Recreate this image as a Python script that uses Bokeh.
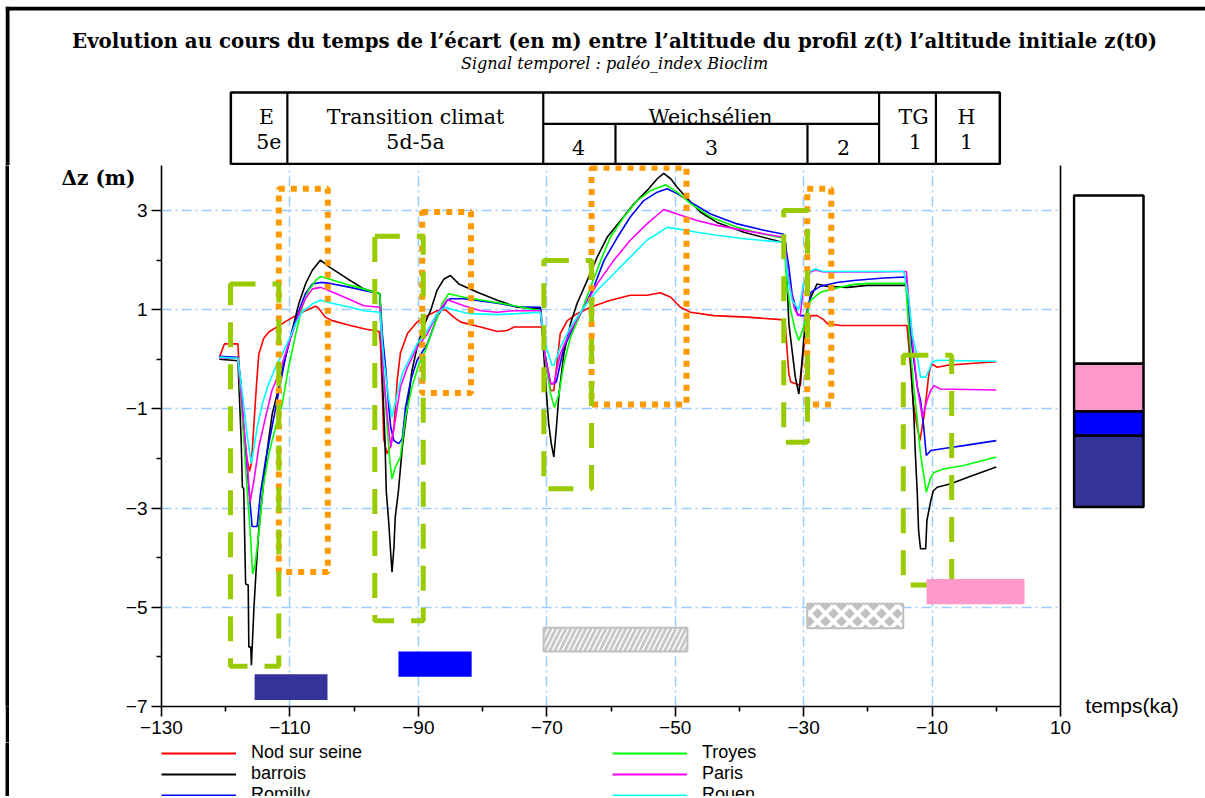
from bokeh.plotting import figure
from bokeh.models import Range1d, FixedTicker, LinearAxis, Legend, LegendItem
from bokeh.layouts import column, row
from bokeh.embed import file_html
from bokeh.resources import INLINE
from bokeh.core.properties import value

# ---------------- data (time in ka, dz in m) ----------------
series_names = ["Nod sur seine", "barrois", "Romilly", "Troyes", "Paris", "Rouen"]
series_colors = ["#ff0000", "#000000", "#0000ff", "#00ff00", "#ff00ff", "#00ffff"]

nod = [(-121.0, 0.03), (-120.2, 0.31), (-118.1, 0.31), (-117.9, -0.2), (-117.3, -1.3), (-116.7, -2.0),
       (-116.3, -2.26), (-116.0, -2.1), (-115.5, -1.1), (-115.2, -0.5), (-114.85, 0.1), (-114.1, 0.42),
       (-113.3, 0.55), (-112.2, 0.64), (-110.7, 0.76), (-109.1, 0.88), (-107.6, 0.98), (-106.0, 1.07),
       (-105.6, 1.04), (-104.5, 0.85), (-103.4, 0.78), (-100.6, 0.68), (-98.3, 0.61), (-96.1, 0.56),
       (-95.9, 0.3), (-95.6, -0.7), (-95.4, -1.6), (-94.9, -1.9), (-94.3, -1.75), (-93.8, -1.37),
       (-93.3, -0.43), (-92.8, 0.12), (-91.7, 0.52), (-90.2, 0.75), (-88.6, 0.88), (-87.1, 0.98),
       (-85.8, 1.0), (-84.5, 0.85), (-83.4, 0.75), (-80.3, 0.65), (-77.7, 0.56), (-76.2, 0.58),
       (-75.1, 0.65), (-70.9, 0.65), (-70.7, 0.6), (-70.3, 0.0), (-69.4, -0.63), (-68.9, -0.63),
       (-67.9, 0.52), (-66.8, 0.78), (-65.3, 0.92), (-63.2, 1.05), (-60.1, 1.19), (-57.0, 1.29),
       (-54.4, 1.29), (-52.3, 1.34), (-50.7, 1.25), (-49.2, 1.05), (-47.6, 0.95), (-44.0, 0.88),
       (-38.8, 0.85), (-33.6, 0.80), (-32.9, 0.75), (-32.3, -0.3), (-32.0, -0.46), (-30.5, -0.53),
       (-30.2, -0.02), (-29.7, 0.52), (-28.9, 0.88), (-27.9, 0.88), (-26.9, 0.80), (-26.3, 0.72),
       (-24.3, 0.68), (-13.9, 0.68), (-13.4, -0.09), (-12.9, -0.9), (-12.4, -1.3), (-11.9, -1.64),
       (-11.2, -1.1), (-10.5, -0.3), (-10.1, -0.09), (-9.2, -0.16), (-7.6, -0.12), (-3.5, -0.08),
       (0.0, -0.05)]

barrois = [(-121.0, 0.0), (-118.1, -0.03), (-117.6, -1.6), (-117.4, -2.58), (-117.2, -2.6),
           (-116.9, -4.53), (-116.5, -4.55), (-116.4, -5.8), (-116.1, -5.8), (-116.0, -6.17),
           (-115.6, -5.0), (-115.25, -4.22), (-114.85, -3.45), (-114.07, -2.44), (-113.54, -1.84),
           (-112.76, -1.1), (-111.98, -0.7), (-110.95, -0.09), (-109.91, 0.45), (-108.62, 1.12),
           (-107.57, 1.52), (-106.53, 1.79), (-105.24, 2.0), (-103.95, 1.87), (-101.0, 1.62),
           (-98.5, 1.42), (-96.0, 1.32), (-95.9, 1.0), (-95.5, -0.7), (-95.2, -1.64), (-95.0, -2.65),
           (-94.6, -3.31), (-94.3, -3.92), (-94.1, -4.29), (-93.8, -3.79), (-93.6, -3.18),
           (-93.1, -2.65), (-92.5, -1.77), (-91.7, -0.97), (-91.0, -0.23), (-90.2, 0.24),
           (-89.15, 0.68), (-88.1, 0.98), (-87.1, 1.39), (-86.0, 1.62), (-85.0, 1.69), (-83.7, 1.52),
           (-80.8, 1.35), (-77.7, 1.19), (-74.6, 1.05), (-71.0, 1.02), (-70.9, 0.98), (-70.2, -0.43),
           (-69.7, -1.3), (-69.3, -1.7), (-68.9, -1.97), (-68.5, -1.37), (-68.1, -0.7),
           (-67.35, 0.11), (-66.3, 0.72), (-65.3, 1.12), (-63.7, 1.59), (-62.15, 2.06),
           (-60.6, 2.46), (-58.5, 2.8), (-56.45, 3.13), (-54.4, 3.4), (-52.8, 3.64), (-51.8, 3.75),
           (-50.7, 3.64), (-49.7, 3.47), (-48.1, 3.24), (-46.1, 2.97), (-43.5, 2.76), (-39.3, 2.56),
           (-33.6, 2.37), (-32.8, 2.36), (-32.6, 1.59), (-32.3, 0.72), (-31.8, 0.18), (-31.3, -0.36),
           (-30.75, -0.7), (-30.2, 0.04), (-29.7, 0.85), (-28.9, 1.25), (-27.9, 1.52), (-26.3, 1.47),
           (-23.2, 1.45), (-20.1, 1.49), (-13.9, 1.49), (-13.5, 0.38), (-13.1, -0.56), (-12.85, -1.1),
           (-12.6, -1.91), (-12.3, -2.71), (-12.1, -3.45), (-11.8, -3.82), (-11.0, -3.82),
           (-10.8, -3.25), (-10.2, -2.85), (-9.8, -2.65), (-9.2, -2.58), (-7.1, -2.51), (-4.0, -2.36),
           (0.0, -2.17)]

romilly = [(-121.0, 0.06), (-118.1, 0.04), (-117.6, -0.5), (-117.2, -1.4), (-116.65, -2.24),
           (-116.0, -3.2), (-115.9, -3.37), (-115.1, -3.37), (-114.6, -2.71), (-113.8, -2.04),
           (-112.8, -1.37), (-111.7, -0.63), (-110.7, 0.04), (-109.65, 0.58), (-108.6, 0.98),
           (-107.6, 1.32), (-106.5, 1.52), (-105.2, 1.55), (-103.7, 1.53), (-100.6, 1.45),
           (-98.5, 1.39), (-96.0, 1.32), (-95.6, 0.5), (-95.1, -0.16), (-94.6, -0.97), (-94.3, -1.37),
           (-93.8, -1.64), (-93.05, -1.7), (-92.5, -1.6), (-92.0, -0.97), (-91.2, -0.43),
           (-90.2, -0.02), (-88.6, 0.31), (-87.1, 0.85), (-85.5, 1.19), (-85.0, 1.22), (-82.9, 1.22),
           (-77.7, 1.13), (-74.6, 1.06), (-71.0, 1.05), (-70.5, 0.24), (-69.7, -0.29), (-69.4, -0.49),
           (-68.9, -0.49), (-68.5, -0.45), (-67.35, 0.24), (-65.8, 0.65), (-64.2, 1.05),
           (-62.7, 1.45), (-61.1, 1.99), (-59.0, 2.46), (-57.0, 2.87), (-54.9, 3.2), (-52.8, 3.37),
           (-51.25, 3.44), (-49.7, 3.34), (-47.6, 3.17), (-44.5, 2.93), (-40.35, 2.73), (-36.2, 2.6),
           (-33.1, 2.52), (-32.3, 1.86), (-31.8, 1.32), (-31.0, 0.92), (-30.5, 0.88), (-29.45, 0.88),
           (-28.9, 1.35), (-27.4, 1.47), (-24.8, 1.55), (-22.2, 1.59), (-17.5, 1.64), (-14.1, 1.66),
           (-13.6, 0.98), (-13.1, 0.24), (-12.3, -0.56), (-11.8, -0.83), (-11.3, -1.37),
           (-10.9, -1.94), (-10.2, -1.84), (-8.2, -1.8), (-5.1, -1.74), (0.0, -1.64)]

troyes = [(-121.0, 0.04), (-118.1, 0.02), (-117.5, -1.0), (-116.65, -2.65), (-116.1, -3.65),
          (-115.8, -4.33), (-115.4, -4.12), (-114.85, -3.52), (-114.1, -2.51), (-113.3, -1.91),
          (-112.25, -1.37), (-111.2, -0.9), (-110.2, -0.16), (-109.1, 0.51), (-108.1, 1.05),
          (-107.1, 1.39), (-106.0, 1.59), (-105.2, 1.67), (-103.4, 1.6), (-100.6, 1.49),
          (-98.5, 1.42), (-96.9, 1.35), (-96.0, 1.32), (-95.4, -0.36), (-94.85, -1.37),
          (-94.45, -2.04), (-94.1, -2.41), (-93.6, -2.18), (-92.8, -1.97), (-92.0, -1.17),
          (-91.0, -0.56), (-89.9, -0.09), (-88.9, 0.18), (-87.6, 0.65), (-86.3, 1.12), (-85.3, 1.32),
          (-82.9, 1.25), (-76.7, 1.12), (-71.0, 0.98), (-70.2, -0.02), (-69.4, -0.7), (-68.8, -0.97),
          (-68.1, -0.7), (-67.35, -0.09), (-66.3, 0.45), (-64.75, 0.92), (-63.2, 1.45),
          (-61.6, 1.99), (-60.1, 2.46), (-58.0, 2.87), (-55.9, 3.2), (-53.85, 3.4), (-51.5, 3.52),
          (-49.7, 3.37), (-47.6, 3.14), (-44.5, 2.87), (-40.35, 2.66), (-36.2, 2.52), (-33.1, 2.44),
          (-32.6, 1.5), (-32.0, 0.98), (-31.3, 0.58), (-30.75, 0.38), (-30.0, 0.65), (-28.9, 1.19),
          (-27.4, 1.35), (-24.8, 1.44), (-22.2, 1.51), (-19.6, 1.53), (-14.1, 1.53), (-13.4, 0.24),
          (-12.85, -0.56), (-12.3, -1.23), (-11.8, -1.91), (-10.9, -2.68), (-10.2, -2.38),
          (-9.7, -2.28), (-8.2, -2.21), (-5.1, -2.14), (-3.0, -2.07), (0.0, -1.97)]

paris = [(-121.0, 0.03), (-118.1, 0.02), (-117.4, -1.0), (-116.7, -2.0), (-116.2, -2.88),
         (-115.6, -2.44), (-114.85, -1.77), (-113.8, -1.17), (-112.8, -0.63), (-111.7, -0.29),
         (-110.7, 0.11), (-109.65, 0.51), (-108.6, 0.92), (-107.6, 1.22), (-106.5, 1.42),
         (-105.2, 1.45), (-103.5, 1.36), (-100.6, 1.2), (-98.5, 1.08), (-96.0, 1.05), (-95.5, -0.2),
         (-94.8, -1.2), (-94.3, -1.77), (-93.6, -1.23), (-92.8, -0.56), (-91.7, -0.16),
         (-90.2, 0.24), (-88.6, 0.51), (-87.1, 0.92), (-85.5, 1.2), (-82.9, 1.08), (-80.3, 0.98),
         (-77.7, 0.95), (-75.1, 0.98), (-71.0, 0.98), (-70.2, 0.0), (-69.4, -0.49), (-68.9, -0.49),
         (-67.9, 0.11), (-66.3, 0.58), (-64.2, 1.05), (-62.15, 1.52), (-59.6, 1.99), (-57.0, 2.4),
         (-54.4, 2.73), (-51.8, 3.02), (-49.7, 2.93), (-46.6, 2.8), (-43.5, 2.7), (-39.3, 2.6),
         (-33.1, 2.46), (-32.3, 1.59), (-31.5, 1.05), (-30.9, 0.88), (-30.5, 0.9), (-30.0, 1.52),
         (-28.9, 1.76), (-28.15, 1.8), (-26.9, 1.76), (-18.5, 1.76), (-15.4, 1.77), (-14.0, 1.77),
         (-13.4, 0.85), (-12.85, 0.11), (-12.3, -0.56), (-11.5, -1.17), (-10.8, -0.83),
         (-10.2, -0.63), (-9.7, -0.53), (-8.7, -0.6), (0.0, -0.62)]

rouen = [(-121.0, 0.04), (-118.1, 0.02), (-117.3, -0.8), (-116.6, -1.6), (-116.0, -2.1),
         (-115.1, -1.37), (-114.3, -0.9), (-113.3, -0.49), (-112.25, -0.16), (-111.2, 0.11),
         (-110.2, 0.38), (-109.1, 0.72), (-108.1, 0.95), (-106.5, 1.12), (-105.2, 1.19),
         (-103.5, 1.13), (-100.6, 1.05), (-98.5, 0.98), (-96.0, 0.95), (-95.4, 0.0), (-94.6, -0.8),
         (-94.1, -1.17), (-93.3, -0.7), (-92.5, -0.29), (-91.5, -0.02), (-90.2, 0.31), (-88.6, 0.58),
         (-87.1, 0.92), (-85.8, 1.05), (-84.0, 0.98), (-81.9, 0.92), (-77.7, 0.9), (-74.6, 0.92),
         (-71.0, 0.95), (-70.2, 0.3), (-69.2, -0.12), (-68.9, -0.12), (-67.9, 0.24), (-66.3, 0.65),
         (-64.2, 1.05), (-62.15, 1.39), (-59.6, 1.72), (-57.0, 2.06), (-54.4, 2.4), (-51.25, 2.66),
         (-49.7, 2.63), (-46.6, 2.56), (-43.5, 2.5), (-39.3, 2.43), (-33.1, 2.36), (-32.4, 1.6),
         (-31.8, 1.19), (-30.75, 1.0), (-30.0, 1.52), (-28.9, 1.78), (-28.15, 1.82), (-26.9, 1.77),
         (-14.4, 1.77), (-13.6, 1.19), (-13.1, 0.51), (-12.3, 0.04), (-11.8, -0.36), (-11.0, -0.36),
         (-10.5, -0.23), (-10.0, -0.06), (-9.2, -0.02), (0.0, -0.04)]

all_series = [nod, barrois, romilly, troyes, paris, rouen]

# highlighted windows (left, right, bottom, top) in ka / m
green_boxes = [(-119.25, -111.73, -6.19, 1.52), (-96.78, -89.24, -5.27, 2.48),
               (-70.46, -63.03, -2.61, 1.99), (-33.1, -29.4, -1.67, 3.0),
               (-14.48, -6.95, -4.55, 0.08)]
orange_boxes = [(-111.73, -104.1, -4.29, 3.44), (-89.4, -81.8, -0.68, 2.97),
                (-63.03, -48.24, -0.91, 3.86), (-29.44, -25.7, -0.91, 3.44)]

# period bars at the bottom (left, right, bottom, top)
bar_navy = (-115.5, -104.15, -6.87, -6.35)
bar_blue = (-93.1, -81.7, -6.4, -5.89)
bar_hatch = (-70.5, -48.1, -5.89, -5.41)
bar_diamond = (-29.44, -14.49, -5.42, -4.93)
bar_pink = (-10.86, 4.4, -4.94, -4.43)

# colour scale on the right
scale_edges = [3.30, -0.09, -1.05, -1.54, -2.98]
scale_colors = ["#ffffff", "#ff99cc", "#0000ff", "#333399"]

# climate periods header
period_edges = [-119.2, -110.4, -70.55, -59.3, -29.4, -18.25, -9.4, 0.55]

x_ticks = [-130, -110, -90, -70, -50, -30, -10, 10]
x_tick_labels = ["\u2212130", "\u2212110", "\u221290", "\u221270", "\u221250", "\u221230", "\u221210", "10"]
x_minor = [-120, -100, -80, -60, -40, -20, 0]
y_ticks = [3, 1, -1, -3, -5, -7]
y_tick_labels = ["3", "1", "\u22121", "\u22123", "\u22125", "\u22127"]
y_minor = [2, 0, -2, -4, -6]

title_text = "Evolution au cours du temps de l\u2019\u00e9cart (en m) entre l\u2019altitude du profil z(t) l\u2019altitude initiale z(t0)"
subtitle_text = "Signal temporel : pal\u00e9o_index Bioclim"

# ---------------- layout ----------------
BORDER = 4
W_MAIN = 1063
W_RIGHT = 133
W_HEAD = BORDER + W_MAIN + W_RIGHT
H_HEAD = 159
H_MAIN = 577
H_LEG = 54
ML, MR, MT, MB = 152, 12, 0, 36
X0, X1 = -130, 10
Y0 = -7.0
PX_PER_Y = 49.6
Y1 = Y0 + (H_MAIN - MT - MB) / PX_PER_Y
FRAME_W = W_MAIN - ML - MR
PX_PER_X = FRAME_W / (X1 - X0)

SANS = value("Liberation Sans")
SERIF = value("DejaVu Serif")

common = dict(output_backend="svg", toolbar_location=None)


def no_align(fig):
    try:
        fig.frame_align = False
    except Exception:
        pass
    return fig


def strip(height, mb=0):
    s = figure(width=BORDER, height=height, x_axis_type=None, y_axis_type=None, min_border=0,
               min_border_bottom=mb, background_fill_color="black", border_fill_color="black",
               outline_line_color=None, **common)
    return no_align(s)


# ---------- main chart ----------
p = figure(width=W_MAIN, height=H_MAIN, x_range=Range1d(X0, X1), y_range=Range1d(Y0, Y1),
           min_border_left=ML, min_border_right=MR, min_border_top=MT, min_border_bottom=MB,
           outline_line_color=None, **common)
no_align(p)

xa = p.xaxis[0]
xa.ticker = FixedTicker(ticks=x_ticks, minor_ticks=x_minor)
xa.major_label_overrides = dict(zip(x_ticks, x_tick_labels))
ya = p.yaxis[0]
ya.ticker = FixedTicker(ticks=y_ticks, minor_ticks=y_minor)
ya.major_label_overrides = dict(zip(y_ticks, y_tick_labels))
for ax in (xa, ya):
    ax.axis_line_color = "black"
    ax.axis_line_width = 1.6
    ax.major_tick_line_color = "black"
    ax.minor_tick_line_color = "black"
    ax.major_tick_line_width = 1.6
    ax.minor_tick_line_width = 1.6
    ax.major_tick_out = 10
    ax.major_tick_in = 0
    ax.minor_tick_out = 5
    ax.minor_tick_in = 0
    ax.major_label_text_font = "Liberation Sans"
    ax.major_label_text_font_size = "19px"
    ax.major_label_text_color = "black"
xa.major_label_standoff = 4
ya.major_label_standoff = 4

for g in (p.xgrid[0], p.ygrid[0]):
    g.grid_line_color = "#99ccff"
    g.grid_line_width = 1.5
    g.grid_line_dash = "10 4 2 4"

# delta-z label as an extra tickless axis
dz_axis = LinearAxis(ticker=FixedTicker(ticks=[3.67]), major_label_overrides={3.67: "\u0394z (m)"},
                     axis_line_color=None, major_tick_line_color=None, minor_tick_line_color=None,
                     major_tick_out=0, major_tick_in=0, minor_tick_out=0, minor_tick_in=0,
                     major_label_text_font="DejaVu Serif", major_label_text_font_style="bold",
                     major_label_text_font_size="20px", major_label_text_color="black",
                     major_label_standoff=-13)
p.add_layout(dz_axis, "left")

right_axis = LinearAxis(ticker=FixedTicker(ticks=[]), axis_line_color="black", axis_line_width=1.6,
                        major_tick_out=0, major_tick_in=0, minor_tick_out=0, minor_tick_in=0,
                        major_label_text_font_size="0px")
p.add_layout(right_axis, "right")

for s, c in zip(all_series, series_colors):
    ts = [a for a, b in s]
    zs = [b for a, b in s]
    p.line(ts, zs, line_color=c, line_width=1.6)


def boxes(lst, **kw):
    p.quad(left=[b[0] for b in lst], right=[b[1] for b in lst],
           bottom=[b[2] for b in lst], top=[b[3] for b in lst], fill_alpha=0, **kw)


boxes(orange_boxes, line_color="#ff9900", line_width=6, line_dash="6 6")
boxes(green_boxes, line_color="#99cc00", line_width=5, line_dash="25 17")


def bar(b, **kw):
    p.quad(left=[b[0]], right=[b[1]], bottom=[b[2]], top=[b[3]], **kw)


bar(bar_navy, fill_color="#333399", line_color=None)
bar(bar_blue, fill_color="#0000ff", line_color=None)
bar(bar_hatch, fill_color="white", line_color="#c0c0c0", line_width=2,
    hatch_pattern="/", hatch_color="#c8c8c8", hatch_weight=3, hatch_scale=10)
bar(bar_diamond, fill_color="#c0c0c0", line_color="#c0c0c0", line_width=2,
    hatch_pattern="x", hatch_color="white", hatch_weight=4, hatch_scale=16)
bar(bar_pink, fill_color="#ff99cc", line_color=None)

# ---------- right panel (colour scale + axis title) ----------
r = figure(width=W_RIGHT, height=H_MAIN, x_range=Range1d(0, W_RIGHT), y_range=Range1d(Y0, Y1),
           x_axis_type=None, y_axis_type=None, min_border_left=0, min_border_right=0,
           min_border_top=MT, min_border_bottom=MB, outline_line_color=None, **common)
no_align(r)
r.quad(left=1.5, right=71, bottom=scale_edges[1:], top=scale_edges[:-1], fill_color=scale_colors,
       line_color="black", line_width=2.5)
t_axis = LinearAxis(ticker=FixedTicker(ticks=[59.5]), major_label_overrides={59.5: "temps(ka)"},
                    axis_line_color=None, major_tick_line_color=None, minor_tick_line_color=None,
                    major_tick_out=0, major_tick_in=0, minor_tick_out=0, minor_tick_in=0,
                    major_label_text_font="Liberation Sans", major_label_text_font_size="21px",
                    major_label_text_color="black", major_label_standoff=-13)
r.add_layout(t_axis, "below")

# ---------- header (with the frame's top/left border) ----------
hx0 = X0 - (ML + BORDER) / PX_PER_X
hx1 = X1 + (W_HEAD - BORDER - ML - FRAME_W) / PX_PER_X
h = figure(width=W_HEAD, height=H_HEAD, x_range=Range1d(hx0, hx1), y_range=Range1d(H_HEAD, 0),
           x_axis_type=None, y_axis_type=None, min_border=0, outline_line_color=None, **common)
no_align(h)
h.quad(left=[hx0, hx0], right=[hx1, hx0 + BORDER / PX_PER_X], top=[0, 0], bottom=[BORDER, H_HEAD],
       fill_color="black", line_color=None)
xc = -59.45
h.text(x=[xc], y=[34], text=[title_text], text_font=SERIF, text_font_style="bold",
       text_font_size="19.8px", text_align="center", text_baseline="middle", text_color="black")
h.text(x=[xc], y=[57], text=[subtitle_text], text_font=SERIF, text_font_style="italic",
       text_font_size="16px", text_align="center", text_baseline="middle", text_color="black")

top_y, mid_y, bot_y = 86, 117.3, 157.5
e = period_edges
h.quad(left=[e[0]], right=[e[-1]], top=[top_y], bottom=[bot_y], fill_alpha=0,
       line_color="black", line_width=2.5)
h.segment(x0=[e[1], e[2], e[5], e[6], e[3], e[4], e[2]],
          y0=[top_y, top_y, top_y, top_y, mid_y, mid_y, mid_y],
          x1=[e[1], e[2], e[5], e[6], e[3], e[4], e[5]],
          y1=[bot_y, bot_y, bot_y, bot_y, bot_y, bot_y, mid_y],
          line_color="black", line_width=2.2)
hdr_text = ["E", "5e", "Transition climat", "5d-5a", "Weichs\u00e9lien", "4", "3", "2", "TG", "1", "H", "1"]
hdr_x = [-113.65, -113.3, -90.44, -90.44, -44.5, -65.06, -44.34, -23.79, -12.89, -12.6, -4.63, -4.63]
hdr_y = [110, 135, 110, 135, 110, 141, 141, 141, 110, 135, 110, 135]
h.text(x=hdr_x, y=hdr_y, text=hdr_text, text_font=SERIF, text_font_size="20.5px",
       text_align="center", text_baseline="middle", text_color="black")

# ---------- legend ----------
lg = figure(width=W_MAIN + W_RIGHT, height=H_LEG, x_range=Range1d(0, 1), y_range=Range1d(0, 1),
            x_axis_type=None, y_axis_type=None, min_border=0, outline_line_color=None, **common)
no_align(lg)
items = []
for name, c in zip(series_names, series_colors):
    rr = lg.line(x=[-3, -2], y=[-3, -3], line_color=c, line_width=2)
    items.append(LegendItem(label=name, renderers=[rr]))
legend = Legend(items=items, location=(152, -9), orientation="vertical", ncols=2,
                glyph_width=75, glyph_height=20, label_height=20, label_width=361,
                label_standoff=15, spacing=0, padding=0, margin=0,
                border_line_color=None, background_fill_alpha=0,
                label_text_font="Liberation Sans", label_text_font_size="18px",
                label_text_color="black")
lg.add_layout(legend)

layout = column(h, row(strip(H_MAIN, MB), p, r), row(strip(H_LEG), lg),
                styles={"margin-left": "5px", "margin-top": "6px"})

html = file_html(layout, INLINE)
html = html.replace("</head>", "<style>html, body { overflow: hidden; }</style></head>", 1)
open("out.html", "w").write(html)
